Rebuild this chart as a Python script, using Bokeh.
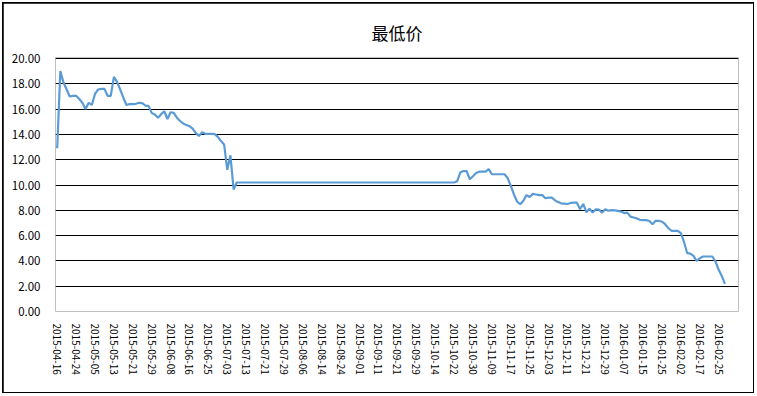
import pandas as pd
from bokeh.plotting import figure
from bokeh.layouts import column
from bokeh.models import Range1d, FixedTicker, NumeralTickFormatter
from bokeh.embed import file_html
from bokeh.resources import INLINE

title_text = "最低价"
first_day = "2015-04-16"
last_day = "2016-02-29"
holidays = ["2015-05-01", "2015-06-22", "2015-09-03", "2015-09-04",
            "2015-10-01", "2015-10-02", "2015-10-05", "2015-10-06", "2015-10-07",
            "2016-01-01", "2016-02-08", "2016-02-09", "2016-02-10", "2016-02-11",
            "2016-02-12"]

low_part1 = [
    12.9, 19.0, 18.1, 17.55, 17.0, 17.05, 17.05, 16.8, 16.5, 16.0,
    16.5, 16.33, 17.2, 17.55, 17.6, 17.6, 17.05, 17.05, 18.55, 18.15,
    17.55, 16.9, 16.33, 16.4, 16.4, 16.42, 16.5, 16.47, 16.28, 16.25,
    15.7, 15.57, 15.32, 15.6, 15.83, 15.22, 15.75, 15.7, 15.32, 15.06,
    14.87, 14.75, 14.65, 14.45, 14.1, 13.88, 14.17, 14.05, 14.04, 14.04,
    14.02, 13.8, 13.47, 13.2, 11.2, 12.35, 9.65,
]
low_suspended = [
    10.2, 10.2, 10.2, 10.2, 10.2, 10.2, 10.2, 10.2, 10.2, 10.2,
    10.2, 10.2, 10.2, 10.2, 10.2, 10.2, 10.2, 10.2, 10.2, 10.2,
    10.2, 10.2, 10.2, 10.2, 10.2, 10.2, 10.2, 10.2, 10.2, 10.2,
    10.2, 10.2, 10.2, 10.2, 10.2, 10.2, 10.2, 10.2, 10.2, 10.2,
    10.2, 10.2, 10.2, 10.2, 10.2, 10.2, 10.2, 10.2, 10.2, 10.2,
    10.2, 10.2, 10.2, 10.2, 10.2, 10.2, 10.2, 10.2, 10.2, 10.2,
    10.2, 10.2, 10.2, 10.2, 10.2, 10.2, 10.2, 10.2, 10.2, 10.2,
]
low_part2 = [
    10.3, 11.0, 11.1, 11.1, 10.45, 10.7, 10.95, 11.05, 11.05, 11.05,
    11.25, 10.85, 10.85, 10.85, 10.85, 10.85, 10.55, 9.95, 9.25, 8.7,
    8.48, 8.75, 9.2, 9.05, 9.3, 9.25, 9.2, 9.2, 8.95, 9.0,
    9.0, 8.8, 8.65, 8.55, 8.53, 8.5, 8.58, 8.6, 8.6, 8.08,
    8.5, 7.85, 8.12, 7.82, 8.08, 8.05, 7.82, 8.08, 7.97, 8.02,
    8.0, 7.95, 7.9, 7.78, 7.82, 7.5, 7.43, 7.36, 7.25, 7.23,
    7.22, 7.15, 6.9, 7.17, 7.17, 7.1, 6.9, 6.6, 6.38, 6.38,
    6.38, 6.2, 5.5, 4.62, 4.58, 4.4, 4.0, 4.2, 4.35, 4.35,
    4.35, 4.35, 3.95, 3.3, 2.8, 2.18,
]
y_ticks = [0, 2, 4, 6, 8, 10, 12, 14, 16, 18, 20]
label_every = 6

lows = low_part1 + low_suspended + low_part2
days = [d for d in pd.bdate_range(first_day, last_day).strftime("%Y-%m-%d") if d not in holidays]
n = min(len(days), len(lows))
days = days[:n]
lows = lows[:n]
xs = list(range(n))

FONT = "Noto Sans CJK SC"

p = figure(width=750, height=389, output_backend="svg", toolbar_location=None,
           x_range=Range1d(-0.54, 216.3), y_range=Range1d(0, 20.08),
           min_border_left=52, min_border_right=15, min_border_top=54, min_border_bottom=81)
p.background_fill_color = "white"
p.border_fill_color = "white"
p.outline_line_color = None

p.title.text = title_text
p.title.align = "center"
p.title.offset = -18
p.title.standoff = 26
p.title.text_font = FONT
p.title.text_font_size = "17px"
p.title.text_font_style = "normal"
p.title.text_color = "#000000"

p.line(xs, lows, line_color="#5B9BD5", line_width=2.2)

tick_idx = list(range(0, n, label_every))
p.xaxis.ticker = FixedTicker(ticks=tick_idx)
p.xaxis.major_label_overrides = {i: days[i] for i in tick_idx}
p.xaxis.major_label_orientation = "vertical"
p.xaxis.major_label_text_font = FONT
p.xaxis.major_label_text_font_size = "10px"
p.xaxis.major_label_text_color = "#000000"
p.xaxis.major_label_standoff = 6
p.xaxis.axis_line_color = None
p.xaxis.major_tick_line_color = None
p.xaxis.minor_tick_line_color = None

p.yaxis.ticker = FixedTicker(ticks=y_ticks)
p.yaxis.formatter = NumeralTickFormatter(format="0.00")
p.yaxis.major_label_text_font = FONT
p.yaxis.major_label_text_font_size = "11.5px"
p.yaxis.major_label_text_color = "#000000"
p.yaxis.major_label_standoff = 9
p.yaxis.axis_line_color = None
p.yaxis.major_tick_line_color = None
p.yaxis.minor_tick_line_color = None

p.xgrid.grid_line_color = None
p.ygrid.grid_line_color = "#000000"
p.ygrid.grid_line_width = 1

lay = column(p, styles={"background-color": "#000000", "padding": "1px",
                        "margin": "2px 0 0 2px", "width": "fit-content"})

open("out.html", "w").write(file_html(lay, INLINE))
